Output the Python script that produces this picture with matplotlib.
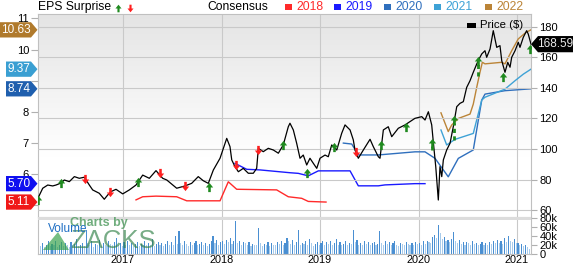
#!/usr/bin/env python3
import matplotlib
matplotlib.use('Agg')
import matplotlib.pyplot as plt
import numpy as np
from matplotlib.patches import Polygon, Rectangle
from matplotlib.transforms import blended_transform_factory

plt.rcParams['font.family'] = ['Liberation Sans', 'DejaVu Sans']

# ---- data (dates as decimal years) ----
price_t = [2016.144, 2016.185, 2016.236, 2016.286, 2016.320, 2016.371, 2016.404, 2016.455, 2016.506, 2016.556,
           2016.607, 2016.658, 2016.692, 2016.759, 2016.810, 2016.845, 2016.878, 2016.929, 2016.997, 2017.064,
           2017.132, 2017.200, 2017.267, 2017.335, 2017.403, 2017.444, 2017.545, 2017.629, 2017.697, 2017.764,
           2017.815, 2017.866, 2017.917, 2017.985, 2018.053, 2018.086, 2018.104, 2018.137, 2018.171, 2018.221,
           2018.272, 2018.323, 2018.357, 2018.374, 2018.424, 2018.475, 2018.526, 2018.577, 2018.627, 2018.678,
           2018.695, 2018.729, 2018.763, 2018.797, 2018.830, 2018.865, 2018.898, 2018.932, 2018.967, 2019.000,
           2019.051, 2019.084, 2019.119, 2019.170, 2019.220, 2019.254, 2019.305, 2019.338, 2019.355, 2019.389,
           2019.440, 2019.508, 2019.541, 2019.592, 2019.609, 2019.643, 2019.693, 2019.728, 2019.795, 2019.863,
           2019.964, 2020.033, 2020.066, 2020.100, 2020.134, 2020.150, 2020.175, 2020.201, 2020.218, 2020.236,
           2020.252, 2020.286, 2020.320, 2020.353, 2020.388, 2020.421, 2020.455, 2020.489, 2020.523, 2020.556,
           2020.591, 2020.624, 2020.642, 2020.675, 2020.692, 2020.726, 2020.759, 2020.794, 2020.827, 2020.845,
           2020.878, 2020.906, 2020.929, 2020.946, 2020.980, 2021.013, 2021.030, 2021.064, 2021.098, 2021.114,
           2021.142]
price_v = [68.9, 74.4, 76.5, 75.9, 76.5, 77.8, 79.8, 78.7, 82.0, 80.9,
           81.6, 76.5, 73.3, 71.1, 67.2, 70.0, 72.2, 73.7, 70.7, 73.3,
           76.5, 83.0, 80.9, 85.9, 80.9, 79.8, 74.4, 75.9, 77.6, 82.0,
           79.3, 77.6, 86.3, 94.0, 107.0, 101.6, 92.9, 88.5, 85.2, 87.4,
           84.2, 84.2, 87.4, 100.5, 98.3, 100.5, 99.4, 97.3, 102.7, 114.6,
           116.9, 112.5, 103.8, 94.0, 96.1, 89.6, 94.0, 90.7, 87.4, 94.0,
           96.1, 95.0, 102.7, 99.4, 110.3, 115.8, 112.5, 106.0, 99.4, 94.0,
           99.4, 106.4, 101.6, 95.0, 94.0, 112.5, 114.6, 108.1, 113.6, 115.8,
           120.1, 121.2, 119.0, 124.4, 115.8, 104.8, 88.5, 66.7, 88.5, 82.0,
           92.9, 99.4, 103.8, 114.6, 127.7, 129.9, 131.0, 140.3, 144.7, 150.2,
           155.6, 160.0, 162.2, 164.3, 160.0, 165.4, 177.4, 166.5, 167.6, 157.8,
           150.2, 156.7, 153.5, 160.0, 164.3, 169.8, 166.5, 173.1, 177.4, 175.2,
           168.59]

c2018_t = [2017.132, 2017.200, 2017.335, 2017.545, 2017.647, 2017.985, 2018.069, 2018.154, 2018.560,
           2018.678, 2018.814, 2018.881, 2019.061]
c2018_v = [5.18, 5.28, 5.30, 5.28, 5.15, 5.15, 5.76, 5.52, 5.50, 5.28, 5.23, 5.13, 5.11]

c2019_t = [2018.137, 2018.256, 2018.391, 2018.695, 2018.780, 2018.881, 2018.983, 2019.305, 2019.389,
           2019.592, 2019.660, 2019.964, 2020.066]
c2019_v = [6.35, 6.16, 6.14, 6.05, 6.03, 5.95, 6.11, 6.11, 5.63, 5.63, 5.66, 5.70, 5.70]

c2020_t = [2019.237, 2019.322, 2019.389, 2019.592, 2019.964, 2020.066, 2020.168, 2020.302, 2020.404,
           2020.556, 2020.642, 2020.675, 2020.878, 2021.142]
c2020_v = [7.00, 6.97, 6.62, 6.62, 6.72, 6.72, 6.51, 5.92, 6.51, 6.78, 8.38, 8.57, 8.68, 8.74]

c2021_t = [2020.228, 2020.286, 2020.371, 2020.556, 2020.642, 2020.675, 2020.878, 2020.980, 2021.064, 2021.142]
c2021_v = [7.42, 6.94, 7.12, 7.31, 8.38, 8.47, 8.73, 9.00, 9.21, 9.37]

c2022_t = [2020.228, 2020.302, 2020.337, 2020.404, 2020.472, 2020.523, 2020.556, 2020.591, 2020.624,
           2020.648, 2020.675, 2020.845, 2020.878, 2020.946, 2021.013, 2021.091, 2021.142]
c2022_v = [7.97, 7.37, 7.58, 7.79, 7.87, 7.93, 8.25, 8.79, 9.27, 9.59, 9.54, 9.59, 9.54, 9.96, 10.34, 10.55, 10.63]

# EPS surprise arrows: date, price level of the arrow
beat_t = [2016.137, 2016.371, 2017.149, 2017.873, 2018.624, 2018.868, 2019.142, 2019.619, 2019.870,
          2020.134, 2020.360, 2020.607, 2020.861, 2021.132]
beat_p = [66.8, 77.8, 78.7, 75.4, 102.7, 84.4, 101.4, 102.7, 114.2, 103.8, 119.0, 157.8, 146.9, 165.4]
miss_t = [2016.614, 2016.868, 2017.376, 2017.629, 2018.147, 2018.371, 2019.362]
miss_p = [80.5, 72.2, 84.4, 75.9, 89.6, 99.4, 98.3]
stem_t = [2020.134, 2020.360, 2020.607]
stem_lo = [99.4, 106.0, 148.0]
stem_hi = [102.0, 117.0, 155.5]

# weekly volume (thousands)
vol_start = 2016.145
volume = [22, 18, 25, 15, 20, 28, 17, 23, 19, 30, 16, 21, 26, 18, 24, 20, 15, 27, 19, 22,
          33, 18, 21, 25, 17, 53, 24, 19, 28, 16, 22, 20, 31, 18, 25, 21, 17, 29, 23, 19,
          26, 35, 20, 24, 18,
          27, 21, 30, 19, 24, 18, 22, 26, 17, 23, 20, 28, 19, 25, 21, 34, 18, 23, 27, 20,
          24, 17, 22, 29, 19, 26, 21, 40, 23, 52, 25, 19, 28, 22, 18, 26, 21, 24, 30, 19,
          23, 27, 20, 25, 18, 22, 28, 40, 24, 31, 21, 26,
          29, 23, 32, 26, 35, 22, 28, 74, 25, 30, 21, 27, 24, 20, 26, 18, 23, 21, 19, 58,
          25, 17, 22, 20, 27, 18, 24, 21, 19, 26, 22, 30, 20, 25, 36, 28, 23, 31, 21, 26,
          53, 19, 24, 22, 28, 20, 33, 25, 18, 23, 27, 21,
          24, 30, 19, 26, 22, 28, 20, 25, 33, 21, 27, 19, 23, 29, 20, 25, 22, 53, 26, 31,
          21, 24, 19, 28, 22, 26, 20, 24, 27, 21, 23, 51, 25, 19, 28, 22, 26, 20, 24, 30,
          21, 18, 25, 22, 19, 27, 23, 20, 24, 21, 26, 22,
          25, 20, 28, 23, 30, 26, 24, 38, 42, 35, 64, 46, 33, 37, 28, 31, 27, 34, 50, 29,
          25, 31, 23, 27, 21, 26, 24, 20, 28, 22, 25, 19, 23, 27, 21, 24, 20, 26, 22, 29,
          24, 31, 25, 28, 22, 35, 27, 39, 30, 26, 33, 24,
          25, 20, 23, 18, 21, 15, 12]

years = [2017, 2018, 2019, 2020, 2021]
eps_ticks = [5, 6, 7, 8, 9, 10, 11]
eps_tick_labels = ['', '6', '7', '8', '', '10', '11']   # 5 and 9 sit under the value tags
cons_years = ['2018', '2019', '2020', '2021', '2022']
cons_colors = ['#ff2a2a', '#1a1aff', '#2f6fbd', '#3ea2d6', '#bb8437']
eps_labels = [10.63, 9.37, 8.74, 5.70, 5.11]
eps_label_colors = ['#b07a2c', '#3a9fd2', '#1f5fae', '#1010f0', '#f01818']
last_price = 168.59

W, H = 573, 264
GREEN = '#1f8a1f'
RED = '#ff1f1f'
GRID = '#c9c9c9'

up = [(-0.28, -1), (0.28, -1), (0.28, 0), (0.8, 0), (0, 1), (-0.8, 0), (-0.28, 0)]
down = [(x, -y) for x, y in up]

fig = plt.figure(figsize=(W / 100, H / 100), dpi=100)


def rect(x0, y0, x1, y1):
    return [x0 / W, 1 - y1 / H, (x1 - x0) / W, (y1 - y0) / H]


# background gradient
bg = fig.add_axes(rect(38, 14, 531, 217), zorder=-1)
t = np.linspace(0, 1, 200)
c = 0.895 + 0.105 * np.clip(t / 0.7, 0, 1)
bg.imshow(np.dstack([c, c, c]).reshape(200, 1, 3), aspect='auto', extent=[0, 1, 0, 1])
bg.axis('off')

ax = fig.add_axes(rect(38, 14, 531, 217))
ax.patch.set_visible(False)
ax2 = ax.twinx()
axv = fig.add_axes(rect(38, 218, 531, 254), sharex=ax)

# consensus lines (EPS axis)
for tt, vv, col in zip([c2018_t, c2019_t, c2020_t, c2021_t, c2022_t],
                       [c2018_v, c2019_v, c2020_v, c2021_v, c2022_v], cons_colors):
    ax.plot(tt, vv, color=col, lw=1.0, zorder=3)

ax.set_xlim(2016.137, 2021.142)
ax.set_ylim(4.631, 11.138)
ax.set_yticks(eps_ticks)
ax.set_yticklabels(eps_tick_labels)
ax.xaxis.grid(True, color=GRID, lw=0.8)
ax.set_xticks(years)
ax.tick_params(axis='x', bottom=False, labelbottom=False)
ax.tick_params(axis='y', left=True, right=False, labelleft=True, labelright=False,
               length=5, color='#b0b0b0', labelsize=8, pad=1.5)
for s in ax.spines.values():
    s.set_color('#c0c0c0')
    s.set_linewidth(0.8)

# price axis
ax2.set_ylim(55.6, 188.3)
ax2.set_yticks(range(60, 181, 20))
ax2.set_axisbelow(True)
ax2.yaxis.grid(True, color=GRID, lw=0.8)
ax2.tick_params(axis='y', length=4, color='#b0b0b0', labelsize=8, pad=2)
for s in ax2.spines.values():
    s.set_visible(False)
ax2.plot(price_t, price_v, color='black', lw=0.9, zorder=4)
ax2.vlines(stem_t, stem_lo, stem_hi, colors=GREEN, lw=2.0, linestyles=(0, (1.5, 1.2)), zorder=5)
ax2.scatter(beat_t, beat_p, marker=up, s=44, c=GREEN, linewidths=0, zorder=6)
ax2.scatter(miss_t, miss_p, marker=down, s=44, c=RED, linewidths=0, zorder=6)

# volume
vol_t = vol_start + np.arange(len(volume)) / 52.0
vol_cols = ['#4a8fd2' if i > 0 and volume[i] > volume[i - 1] else '#a8cbeb' for i in range(len(volume))]
axv.bar(vol_t, volume, width=0.0115, color=vol_cols, linewidth=0, zorder=2)
axv.set_ylim(0, 80)
axv.set_yticks([0, 20, 40, 60, 80])
axv.set_yticklabels(['0', '20k', '40k', '60k', '80k'])
axv.yaxis.tick_right()
axv.tick_params(axis='y', length=4, color='#b0b0b0', labelsize=8, pad=2)
axv.set_xticks(years)
axv.set_xticklabels([str(y) for y in years])
axv.tick_params(axis='x', length=0, labelsize=7.8, pad=0.6)
axv.xaxis.grid(True, color=GRID, lw=0.8)
axv.set_axisbelow(True)
for s in axv.spines.values():
    s.set_color('#c0c0c0')
    s.set_linewidth(0.8)
axv.spines['top'].set_visible(False)

# overlay in pixel coords
ov = fig.add_axes([0, 0, 1, 1], zorder=10)
ov.set_xlim(0, W)
ov.set_ylim(H, 0)
ov.set_autoscale_on(False)
ov.axis('off')

ov.add_patch(Rectangle((38, 216.5), 493, 3.5, color='#dcdcdc', lw=0))

# header
ov.text(38, 7, 'EPS Surprise', fontsize=8.7, va='center', ha='left')
ov.scatter([118], [7.5], marker=up, s=30, c=GREEN, linewidths=0)
ov.scatter([130], [7.5], marker=down, s=30, c=RED, linewidths=0)
ov.text(207, 7, 'Consensus', fontsize=8.7, va='center', ha='left')
sq_x = [285, 334, 384, 434, 485]
for sx, lab, col in zip(sq_x, cons_years, cons_colors):
    ov.add_patch(Rectangle((sx, 4), 6.5, 6, color=col, lw=0))
    ov.text(sx + 11.5, 7, lab, fontsize=8.7, color=col, va='center', ha='left')
ov.add_patch(Rectangle((467, 22.5), 9, 5, color='black', lw=0))
ov.text(480, 25, 'Price ($)', fontsize=8.2, va='center', ha='left')

# left EPS value tags
tr_eps = blended_transform_factory(ov.transData, ax.transData)
for i, (v, col) in enumerate(zip(eps_labels, eps_label_colors)):
    x0 = 0 if i == 0 else 6
    hh = 0.245
    ov.add_patch(Polygon([(x0, v - hh), (31, v - hh), (37.5, v), (31, v + hh), (x0, v + hh)],
                         closed=True, transform=tr_eps, color=col, lw=0, clip_on=False))
    ov.text((x0 + 31) / 2 + 0.5, v, '%.2f' % v, transform=tr_eps, color='white',
            fontsize=8.5, ha='center', va='center')

# right price tag
tr_p = blended_transform_factory(ov.transData, ax2.transData)
ph = 5.3
ov.add_patch(Polygon([(531, last_price), (538, last_price + ph), (573, last_price + ph),
                      (573, last_price - ph), (538, last_price - ph)],
                     closed=True, transform=tr_p, color='black', lw=0, clip_on=False))
ov.text(555.5, last_price, '%.2f' % last_price, transform=tr_p, color='#e8e8e8',
        fontsize=8.5, ha='center', va='center')

# watermark
ov.add_patch(Polygon([(43, 250), (69, 250), (58, 232)], closed=True, color='#3aa34e', alpha=0.7, lw=0))
ov.text(99, 223, 'Charts by', fontsize=9, color='#4e9a5e', alpha=0.8, fontweight='bold',
        ha='center', va='center')
ov.text(113, 241, 'ZACKS', fontsize=18.5, color='#2f8045', alpha=0.65, ha='center', va='center')
ov.text(48, 229, 'Volume', fontsize=8.5, color='#1f6fc4', ha='left', va='center')

fig.savefig('out.png', dpi=100)
